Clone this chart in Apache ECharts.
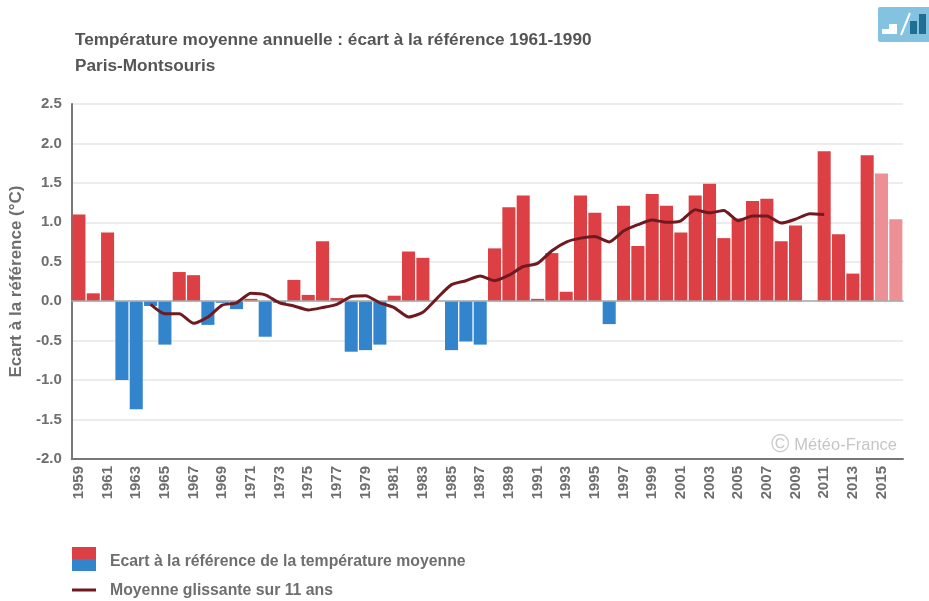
<!DOCTYPE html>
<html>
<head>
<meta charset="utf-8">
<title>Température moyenne annuelle</title>
<style>
html, body { margin: 0; padding: 0; background: #fff; }
#chart { width: 929px; height: 601px; }
</style>
<script src="https://cdn.jsdelivr.net/npm/echarts@6/dist/echarts.min.js"></script>
</head>
<body>
<div id="chart"></div>
<script>
var years = ['1959','1960','1961','1962','1963','1964','1965','1966','1967','1968',
  '1969','1970','1971','1972','1973','1974','1975','1976','1977','1978',
  '1979','1980','1981','1982','1983','1984','1985','1986','1987','1988',
  '1989','1990','1991','1992','1993','1994','1995','1996','1997','1998',
  '1999','2000','2001','2002','2003','2004','2005','2006','2007','2008',
  '2009','2010','2011','2012','2013','2014','2015','2016'];
var ecart = [1.10,0.10,0.87,-1.00,-1.37,-0.06,-0.55,0.37,0.33,-0.30,
  -0.02,-0.10,0.03,-0.45,-0.02,0.27,0.08,0.76,0.04,-0.64,
  -0.62,-0.55,0.07,0.63,0.55,0,-0.62,-0.51,-0.55,0.67,
  1.19,1.34,0.03,0.61,0.12,1.34,1.12,-0.29,1.21,0.70,
  1.36,1.21,0.87,1.34,1.49,0.80,1.05,1.27,1.30,0.76,
  0.96,null,1.90,0.85,0.35,1.85,1.62,1.04];
var moyenne = [null,null,null,null,null,-0.04,-0.16,-0.16,-0.28,-0.20,
  -0.05,-0.02,0.10,0.08,-0.02,-0.06,-0.11,-0.08,-0.04,0.06,
  0.07,-0.02,-0.08,-0.20,-0.14,0.04,0.21,0.26,0.32,0.26,
  0.33,0.44,0.48,0.64,0.75,0.80,0.82,0.75,0.89,0.97,
  1.03,1.00,1.02,1.16,1.12,1.15,1.02,1.08,1.08,0.99,
  1.04,1.11,1.10,null,null,null,null,null];
var provisoires = ['2015','2016'];

var ROUGE = '#dc3f44';
var BLEU = '#3284cc';
var ROUGE_CLAIR = '#ec9096';
var GRIS = '#6e6e6e';
var LIGNE = '#6f1a20';
var police = '"Liberation Sans", Arial, sans-serif';

var barData = [];
for (var i = 0; i < ecart.length; i++) {
  var couleur = ecart[i] < 0 ? BLEU : ROUGE;
  if (provisoires.indexOf(years[i]) >= 0) couleur = ROUGE_CLAIR;
  barData.push({ value: ecart[i], itemStyle: { color: couleur } });
}

var chart = echarts.init(document.getElementById('chart'), null, { renderer: 'canvas' });
chart.setOption({
  animation: false,
  backgroundColor: '#fff',
  textStyle: { fontFamily: police },
  grid: { left: 71.5, right: 26, top: 104, bottom: 142, containLabel: false },
  xAxis: [
    {
      type: 'category',
      data: years,
      position: 'bottom',
      axisLine: { onZero: false, lineStyle: { color: '#777', width: 2 } },
      axisTick: { show: false },
      axisLabel: {
        rotate: 90, interval: 1, margin: 7, color: GRIS,
        fontSize: 15, fontWeight: 'bold', fontFamily: police
      }
    },
    {
      // ligne du zero
      type: 'category',
      data: years,
      position: 'bottom',
      z: 2.5,
      axisLine: { onZero: true, lineStyle: { color: '#aaa', width: 1.5 } },
      axisTick: { show: false },
      axisLabel: { show: false }
    }
  ],
  yAxis: {
    type: 'value',
    min: -2,
    max: 2.5,
    interval: 0.5,
    name: 'Ecart à la référence (°C)',
    nameLocation: 'middle',
    nameGap: 46,
    nameRotate: 90,
    nameTextStyle: { color: GRIS, fontSize: 17, fontWeight: 'bold', fontFamily: police },
    axisLine: { show: true, lineStyle: { color: '#777', width: 2 } },
    axisTick: { show: false },
    axisLabel: {
      margin: 10, color: GRIS, fontSize: 15, fontWeight: 'bold', fontFamily: police,
      formatter: function (v) { return v.toFixed(1); }
    },
    splitLine: { lineStyle: { color: '#e6e6e6', width: 1.5 } }
  },
  series: [
    {
      name: 'Ecart à la référence de la température moyenne',
      type: 'bar',
      data: barData,
      barCategoryGap: '9%',
      z: 2
    },
    {
      name: 'Moyenne glissante sur 11 ans',
      type: 'line',
      data: moyenne,
      smooth: 0.2,
      showSymbol: false,
      lineStyle: { color: LIGNE, width: 3 },
      z: 3
    }
  ],
  graphic: [
    { type: 'text', left: 75, top: 32, style: { text: 'Température moyenne annuelle : écart à la référence 1961-1990', fill: '#555', font: 'bold 17.2px ' + police } },
    { type: 'text', left: 75, top: 58, style: { text: 'Paris-Montsouris', fill: '#555', font: 'bold 17.2px ' + police } },
    { type: 'text', left: 771, top: 433, style: { text: '©', fill: '#cacaca', font: '25px ' + police } },
    { type: 'text', right: 32, top: 437, style: { text: 'Météo-France', fill: '#c6c6c6', font: '16.5px ' + police } },
    // legende
    { type: 'rect', shape: { x: 72, y: 547, width: 24, height: 12 }, style: { fill: ROUGE } },
    { type: 'rect', shape: { x: 72, y: 559, width: 24, height: 12 }, style: { fill: BLEU } },
    { type: 'text', left: 110, top: 554, style: { text: 'Ecart à la référence de la température moyenne', fill: GRIS, font: 'bold 15.8px ' + police } },
    { type: 'line', shape: { x1: 72, y1: 590, x2: 96, y2: 590 }, style: { stroke: LIGNE, lineWidth: 3 } },
    { type: 'text', left: 110, top: 583, style: { text: 'Moyenne glissante sur 11 ans', fill: GRIS, font: 'bold 15.8px ' + police } },
    // icone en haut a droite
    { type: 'rect', shape: { x: 878, y: 7, width: 55, height: 35, r: 2 }, style: { fill: '#84c3e0' } },
    { type: 'rect', shape: { x: 882, y: 29, width: 7, height: 5 }, style: { fill: '#fff' } },
    { type: 'rect', shape: { x: 889, y: 24, width: 8, height: 10 }, style: { fill: '#fff' } },
    { type: 'line', shape: { x1: 901, y1: 35, x2: 910, y2: 13 }, style: { stroke: '#fff', lineWidth: 2 } },
    { type: 'rect', shape: { x: 910, y: 21, width: 7, height: 13 }, style: { fill: '#1f6f95' } },
    { type: 'rect', shape: { x: 919, y: 14, width: 7, height: 20 }, style: { fill: '#1f6f95' } }
  ]
});
</script>
</body>
</html>
